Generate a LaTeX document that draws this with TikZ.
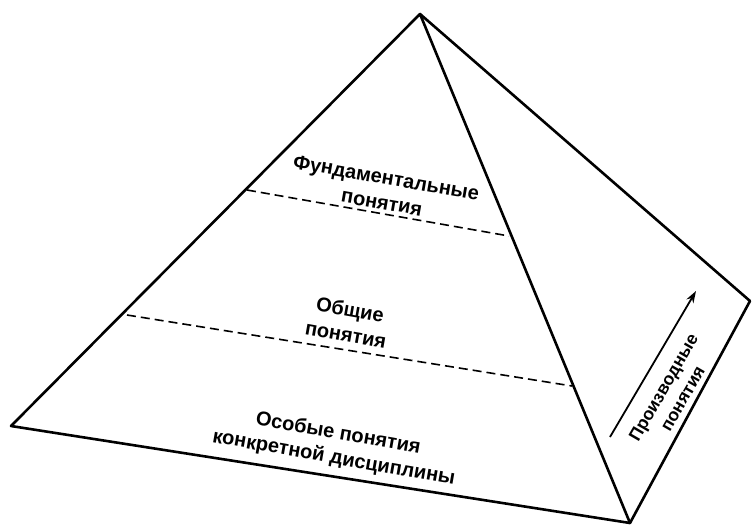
\documentclass[tikz,border=0pt]{standalone}
\usepackage{fontspec}
\setmainfont{Liberation Sans}
\usetikzlibrary{arrows.meta}
\begin{document}
\begin{tikzpicture}[x=1pt,y=-1pt,
  edge/.style={line width=2.6pt,line join=round,line cap=round},
  level/.style={line width=1.6pt,dash pattern=on 9pt off 5pt},
  lbl/.style={font=\bfseries\fontsize{20}{25}\selectfont,align=center,inner sep=0pt,rotate=-10},
  sidelbl/.style={font=\bfseries\fontsize{17.5}{22}\selectfont,align=center,inner sep=0pt,rotate=60}]
\useasboundingbox (0,0) rectangle (753,528);
\coordinate (apex) at (420,14);
\coordinate (left) at (11,426);
\coordinate (front) at (630,523);
\coordinate (back) at (750,301);
\draw[edge] (left) -- (apex) -- (front) -- cycle;
\draw[edge] (apex) -- (back) -- (front);
\coordinate (u1) at (247,190);
\coordinate (u2) at (509,236);
\coordinate (l1) at (127,315);
\coordinate (l2) at (572,386);
\draw[level] (u1) -- (u2);
\draw[level] (l1) -- (l2);
\node[lbl] (fund) at (384,190) {Фундаментальные\\понятия};
\node[lbl] (gen) at (348,322) {Общие\\понятия};
\node[lbl] (spec) at (336,446) {Особые понятия\\конкретной дисциплины};
\coordinate (a1) at (610,437);
\coordinate (a2) at (696,291);
\draw[line width=1.8pt,-{Stealth[length=12pt,width=8pt]}] (a1) -- (a2);
\node[sidelbl] (deriv) at (673,393) {Производные\\понятия};
\end{tikzpicture}
\end{document}
